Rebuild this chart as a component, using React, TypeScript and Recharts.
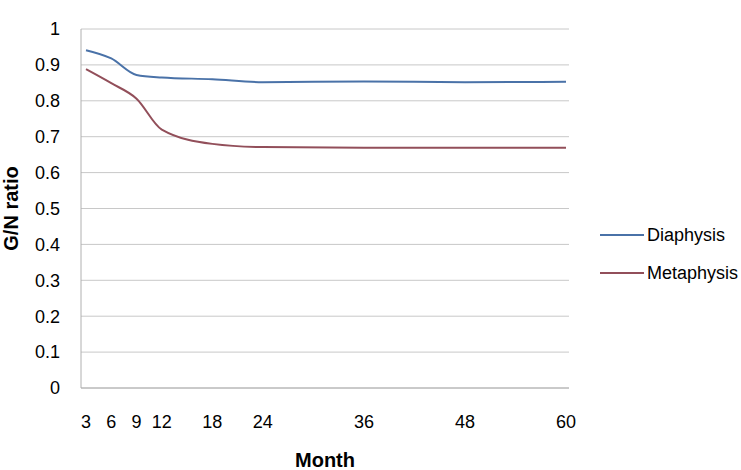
import React from "react";
import { LineChart, Line, XAxis, YAxis, CartesianGrid, Label } from "recharts";

const months = [3, 6, 9, 12, 18, 24, 36, 48, 60];
const diaphysis = [0.941, 0.918, 0.872, 0.865, 0.86, 0.852, 0.854, 0.852, 0.853];
const metaphysis = [0.888, 0.849, 0.806, 0.72, 0.68, 0.671, 0.669, 0.669, 0.669];
const xTicks = [3, 6, 9, 12, 18, 24, 36, 48, 60];
const yTicks = [0, 0.1, 0.2, 0.3, 0.4, 0.5, 0.6, 0.7, 0.8, 0.9, 1];
const seriesNames = ["Diaphysis", "Metaphysis"];

const data = months.map((m, i) => ({ month: m, Diaphysis: diaphysis[i], Metaphysis: metaphysis[i] }));

const BLUE = "#4A72A8";
const RED = "#924F5A";
const COLORS = [BLUE, RED];
const FONT = "'Liberation Sans', Arial, sans-serif";

function LegendBox() {
  return (
    <div
      style={{
        position: "absolute",
        left: 600,
        top: 216,
        fontFamily: FONT,
        fontSize: 18,
        color: "#000",
        whiteSpace: "nowrap",
      }}
    >
      {seriesNames.map((name, i) => (
        <div key={name} style={{ display: "flex", alignItems: "center", height: 38 }}>
          <svg width={47} height={4} style={{ display: "block" }}>
            <line x1={0} y1={2} x2={44} y2={2} stroke={COLORS[i]} strokeWidth={2} />
          </svg>
          <span>{name}</span>
        </div>
      ))}
    </div>
  );
}

export default function App() {
  return (
    <div style={{ position: "absolute", left: 0, top: 0, width: 741, height: 470, background: "#fff" }}>
      <LineChart
        width={741}
        height={470}
        data={data}
        margin={{ top: 29, right: 172, bottom: 52, left: 0 }}
      >
        <CartesianGrid horizontal vertical={false} stroke="#c8c8c8" strokeWidth={1} />
        <XAxis
          dataKey="month"
          type="number"
          domain={[3, 60]}
          ticks={xTicks}
          interval={0}
          height={30}
          padding={{ left: 5, right: 3 }}
          tickLine={false}
          tickSize={0}
          tickMargin={27}
          stroke="#b0b0b0"
          tick={{ fill: "#000", fontSize: 18, fontFamily: FONT }}
        >
          <Label
            value="Month"
            position="bottom"
            offset={35}
            style={{ fontWeight: "bold", fontSize: 20, fontFamily: FONT, fill: "#000" }}
          />
        </XAxis>
        <YAxis
          type="number"
          domain={[0, 1]}
          ticks={yTicks}
          interval={0}
          width={81}
          tickLine={false}
          tickSize={0}
          tickMargin={21}
          stroke="#b0b0b0"
          tick={{ fill: "#000", fontSize: 18, fontFamily: FONT }}
        >
          <Label
            value="G/N ratio"
            angle={-90}
            position="insideLeft"
            offset={11}
            style={{ fontWeight: "bold", fontSize: 20, fontFamily: FONT, fill: "#000", textAnchor: "middle" }}
          />
        </YAxis>
        <Line type="monotone" dataKey="Diaphysis" stroke={BLUE} strokeWidth={2} dot={false} isAnimationActive={false} />
        <Line type="monotone" dataKey="Metaphysis" stroke={RED} strokeWidth={2} dot={false} isAnimationActive={false} />
      </LineChart>
      <LegendBox />
    </div>
  );
}
